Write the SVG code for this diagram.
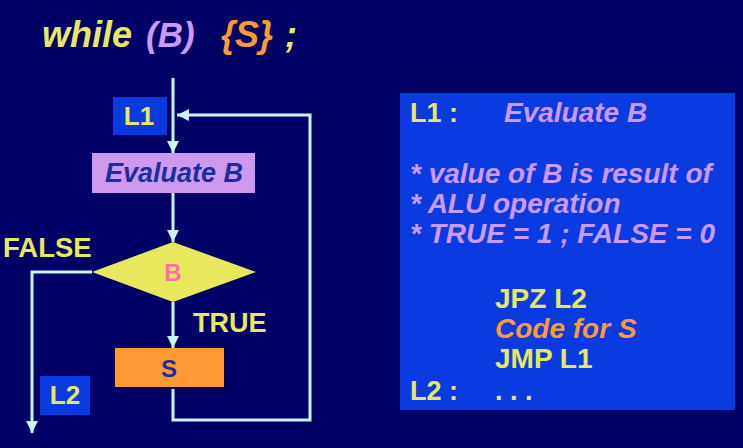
<svg xmlns="http://www.w3.org/2000/svg" width="743" height="448" viewBox="0 0 743 448">
<style>
text{font-family:"Liberation Sans",Arial,sans-serif;font-weight:bold}
.it{font-style:italic}
.yel{fill:#e8e85e}
.lav{fill:#cc99ff}
.org{fill:#ff9933}
.blu{fill:#0a3be0}
.dk{fill:#1a2f9a}
.conn{fill:none;stroke:#c8f4ff;stroke-width:3}
</style>
<defs>
<marker id="ah" markerUnits="userSpaceOnUse" markerWidth="12" markerHeight="12" viewBox="0 0 12 12" refX="12" refY="6" orient="auto">
<path d="M0,0 L12,6 L0,12 z" fill="#c8f4ff"/>
</marker>
</defs>
<rect width="743" height="448" fill="#000066"/>
<g id="title">
<text x="42" y="47" font-size="36" class="it yel">while</text>
<text x="146" y="47" font-size="35" class="it lav">(B)</text>
<text x="221" y="47" font-size="36" class="it org">{S}</text>
<text x="285" y="47" font-size="36" class="it yel">;</text>
</g>
<g id="connectors">
<path class="conn" d="M173,78 V153" marker-end="url(#ah)"/>
<path class="conn" d="M173,193 V242" marker-end="url(#ah)"/>
<path class="conn" d="M173,302 V348" marker-end="url(#ah)"/>
<path class="conn" d="M92,272 H32 V433" marker-end="url(#ah)"/>
<path class="conn" d="M173,389 V420 H310 V115 H177" marker-end="url(#ah)"/>
</g>
<g id="L1">
<rect x="113" y="97" width="54" height="38" class="blu"/>
<text x="139" y="125" font-size="26" text-anchor="middle" class="yel">L1</text>
</g>
<g id="evaluateB">
<rect x="92" y="153" width="163" height="40" fill="#cc99ee"/>
<text x="174" y="182" font-size="27" text-anchor="middle" class="it dk">Evaluate B</text>
</g>
<g id="decisionB">
<polygon points="173,242 256,272 173,302 92,272" fill="#e8e85e"/>
<text x="173" y="281" font-size="24" text-anchor="middle" fill="#ff6fa8">B</text>
</g>
<g id="falseLabel"><text x="3" y="257" font-size="27.5" class="yel">FALSE</text></g>
<g id="trueLabel"><text x="193" y="332" font-size="27" class="yel">TRUE</text></g>
<g id="S">
<rect x="115" y="348" width="109" height="39" class="org"/>
<text x="169" y="377" font-size="24" text-anchor="middle" class="dk">S</text>
</g>
<g id="L2">
<rect x="40" y="376" width="50" height="39" class="blu"/>
<text x="65" y="404" font-size="26" text-anchor="middle" class="yel">L2</text>
</g>
<g id="codePanel">
<rect x="400" y="93" width="335" height="317" class="blu"/>
<text x="410" y="122" font-size="27" class="yel">L1 :</text>
<text x="504" y="122" font-size="28" class="it lav">Evaluate B</text>
<text x="410" y="183" font-size="28" class="it lav">* value of B is result of</text>
<text x="410" y="213" font-size="28" class="it lav">* ALU operation</text>
<text x="410" y="243" font-size="28" class="it lav">* TRUE = 1 ; FALSE = 0</text>
<text x="495" y="308" font-size="28" class="yel">JPZ L2</text>
<text x="495" y="338" font-size="28" class="it org">Code for S</text>
<text x="495" y="368" font-size="28" class="yel">JMP L1</text>
<text x="410" y="400" font-size="27" class="yel">L2 :</text>
<text x="495" y="400" font-size="27" class="yel">. . .</text>
</g>
</svg>
